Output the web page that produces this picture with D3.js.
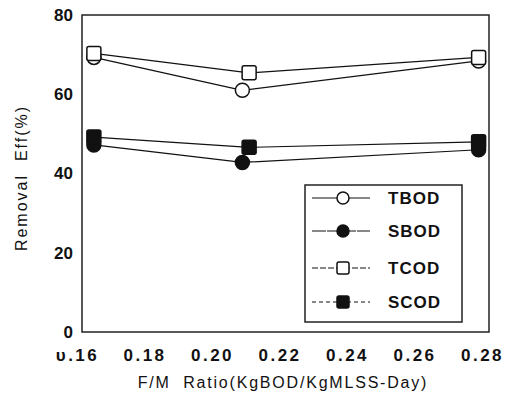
<!DOCTYPE html>
<html>
<head>
<meta charset="utf-8">
<script src="https://cdn.jsdelivr.net/npm/d3@7"></script>
<style>
  body { margin: 0; background: #fff; }
  svg text { font-family: "Liberation Sans", Arial, sans-serif; fill: #111; white-space: pre; }
</style>
</head>
<body>
<svg id="svg" width="512" height="395"></svg>
<script>
// data
const fmBOD = [0.165, 0.209, 0.279];
const fmCOD = [0.165, 0.211, 0.279];
const tbod = [69.3, 61.0, 68.4];
const sbod = [47.2, 42.8, 46.0];
const tcod = [70.3, 65.4, 69.3];
const scod = [49.2, 46.6, 48.0];
const xTicks = [0.16, 0.18, 0.20, 0.22, 0.24, 0.26, 0.28];
const yTicks = [0, 20, 40, 60, 80];

const series = [
    {name: "TBOD", xs: fmBOD, ys: tbod, shape: "circle", fill: "#fff", dash: null},
    {name: "SBOD", xs: fmBOD, ys: sbod, shape: "circle", fill: "#111", dash: "14,1"},
    {name: "TCOD", xs: fmCOD, ys: tcod, shape: "square", fill: "#fff", dash: "6,2"},
    {name: "SCOD", xs: fmCOD, ys: scod, shape: "square", fill: "#111", dash: "4,3"}
];

const svg = d3.select("svg#svg");
const x = d3.scaleLinear().domain([0.16, 0.28]).range([77, 482]);
const y = d3.scaleLinear().domain([0, 80]).range([332, 15]);

// plot frame
svg.append("rect")
    .attr("x", 82).attr("y", y(80))
    .attr("width", 489 - 82).attr("height", y(0) - y(80))
    .attr("fill", "none").attr("stroke", "#222").attr("stroke-width", 1.5);

// axes: labels only, no tick marks
const xAxis = svg.append("g").attr("transform", `translate(0,${y(0) + 14})`)
    .call(d3.axisBottom(x).tickValues(xTicks).tickSize(0));
xAxis.select(".domain").remove();
xAxis.selectAll("text")
    .text(d => d === 0.16 ? "υ.16" : d3.format(".2f")(d))
    .style("font-size", "17px").style("font-weight", "bold").style("letter-spacing", "2.5px")
    .attr("font-family", null).attr("fill", "#111");

const yAxis = svg.append("g").attr("transform", "translate(73,0)")
    .call(d3.axisLeft(y).tickValues(yTicks).tickSize(0).tickPadding(0));
yAxis.select(".domain").remove();
yAxis.selectAll("text")
    .style("font-size", "17px").style("font-weight", "bold")
    .attr("font-family", null).attr("fill", "#111");

svg.append("text")
    .attr("transform", "translate(27,178) rotate(-90)")
    .attr("text-anchor", "middle")
    .style("font-size", "16px").style("letter-spacing", "2px")
    .text("Removal  Eff(%)");

svg.append("text")
    .attr("x", 283).attr("y", 388)
    .attr("text-anchor", "middle")
    .style("font-size", "16px").style("letter-spacing", "1.8px")
    .text("F/M  Ratio(KgBOD/KgMLSS-Day)");

const line = d3.line().x(d => x(d[0])).y(d => y(d[1]));

function marker(g, shape, fill, cx, cy, s) {
    if (shape === "circle") {
        g.append("circle").attr("cx", cx).attr("cy", cy).attr("r", s)
            .attr("fill", fill).attr("stroke", "#111").attr("stroke-width", 1.5);
    } else {
        g.append("rect").attr("x", cx - s).attr("y", cy - s)
            .attr("width", 2 * s).attr("height", 2 * s).attr("rx", 2)
            .attr("fill", fill).attr("stroke", "#111").attr("stroke-width", 1.5);
    }
}

// lines (solid in the plot, the scan hides any dashing)
series.forEach(s => {
    svg.append("path")
        .datum(s.xs.map((v, i) => [v, s.ys[i]]))
        .attr("d", line)
        .attr("fill", "none").attr("stroke", "#111").attr("stroke-width", 1.2);
});

// markers
series.forEach(s => {
    const g = svg.append("g");
    s.xs.forEach((v, i) => marker(g, s.shape, s.fill, x(v), y(s.ys[i]), 7));
});

// legend
const lg = svg.append("g");
lg.append("rect").attr("x", 305).attr("y", 185).attr("width", 157).attr("height", 137)
    .attr("fill", "#fff").attr("stroke", "#222").attr("stroke-width", 1.5);
const rows = [198, 231, 268, 302];
series.forEach((s, i) => {
    lg.append("line").attr("x1", 312).attr("x2", 370).attr("y1", rows[i]).attr("y2", rows[i])
        .attr("stroke", "#111").attr("stroke-width", 1.1)
        .attr("stroke-dasharray", s.dash);
    marker(lg, s.shape, s.fill, 343, rows[i], 6);
    lg.append("text").attr("x", 388).attr("y", rows[i]).attr("dy", "0.36em")
        .style("font-size", "17px").style("font-weight", "bold").style("letter-spacing", "1px")
        .text(s.name);
});
</script>
</body>
</html>
